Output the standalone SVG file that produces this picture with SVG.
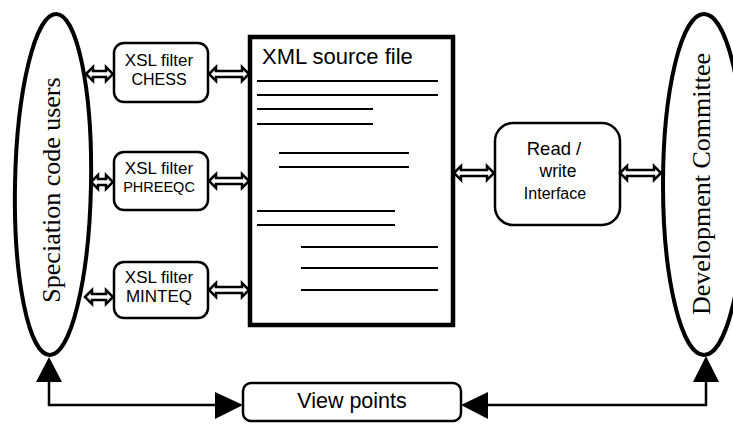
<svg xmlns="http://www.w3.org/2000/svg" width="733" height="424" viewBox="0 0 733 424">
  <style>
    .ell { fill: #fff; stroke: #000; stroke-width: 4; }
    .box { fill: #fff; stroke: #000; stroke-width: 2.5; }
    .doc { fill: #fff; stroke: #000; stroke-width: 4.5; }
    .row { stroke: #000; stroke-width: 2; }
    .sans { font-family: "Liberation Sans", Arial, sans-serif; fill: #000; }
    .serif { font-family: "Liberation Serif", "Times New Roman", serif; fill: #000; font-size: 26px; }
    .dbl { fill: #fff; stroke: #000; stroke-width: 2.5; stroke-linejoin: miter; }
    .wire { fill: none; stroke: #000; stroke-width: 2.5; }
    .head { fill: #000; stroke: none; }
  </style>

  <!-- actors -->
  <g id="users">
    <ellipse class="ell" cx="53" cy="184.5" rx="38" ry="170.5" transform="rotate(1.1 53 184.5)"/>
    <text class="serif" text-anchor="middle" transform="translate(60 190) rotate(-90)">Speciation code users</text>
  </g>
  <g id="committee">
    <ellipse class="ell" cx="704" cy="184.5" rx="41" ry="170.5"/>
    <text class="serif" text-anchor="middle" transform="translate(710 184) rotate(-90)">Development Committee</text>
  </g>

  <!-- filters -->
  <g id="filter-chess">
    <rect class="box" x="114" y="43" width="94" height="59" rx="10"/>
    <text class="sans" x="159" y="66" font-size="17" text-anchor="middle">XSL filter</text>
    <text class="sans" x="159" y="85" font-size="16" text-anchor="middle">CHESS</text>
  </g>
  <g id="filter-phreeqc">
    <rect class="box" x="114" y="152" width="94" height="58" rx="10"/>
    <text class="sans" x="159" y="174" font-size="17" text-anchor="middle">XSL filter</text>
    <text class="sans" x="159" y="192" font-size="14.5" text-anchor="middle">PHREEQC</text>
  </g>
  <g id="filter-minteq">
    <rect class="box" x="114" y="262" width="94" height="56" rx="10"/>
    <text class="sans" x="159" y="283" font-size="17" text-anchor="middle">XSL filter</text>
    <text class="sans" x="159" y="302" font-size="17" text-anchor="middle">MINTEQ</text>
  </g>

  <!-- source document -->
  <g id="xml-source">
    <rect class="doc" x="250" y="37" width="203" height="288"/>
    <text class="sans" x="262" y="64" font-size="22">XML source file</text>
    <line class="row" x1="257" y1="81" x2="438" y2="81"/>
    <line class="row" x1="257" y1="95" x2="438" y2="95"/>
    <line class="row" x1="257" y1="109" x2="373" y2="109"/>
    <line class="row" x1="257" y1="124" x2="373" y2="124"/>
    <line class="row" x1="279" y1="153" x2="409" y2="153"/>
    <line class="row" x1="279" y1="167" x2="409" y2="167"/>
    <line class="row" x1="257" y1="211" x2="395" y2="211"/>
    <line class="row" x1="257" y1="225" x2="395" y2="225"/>
    <line class="row" x1="301" y1="247" x2="438" y2="247"/>
    <line class="row" x1="301" y1="268" x2="438" y2="268"/>
    <line class="row" x1="301" y1="290" x2="438" y2="290"/>
  </g>

  <g id="read-write">
    <rect class="box" x="495" y="123" width="125" height="102" rx="18"/>
    <text class="sans" x="554" y="155" font-size="18.5" text-anchor="middle">Read /</text>
    <text class="sans" x="558" y="177" font-size="17.5" text-anchor="middle">write</text>
    <text class="sans" x="555" y="199" font-size="16" text-anchor="middle">Interface</text>
  </g>

  <g id="view-points">
    <rect class="box" x="243" y="383" width="218" height="38" rx="8"/>
    <text class="sans" x="352" y="408" font-size="21.5" text-anchor="middle">View points</text>
  </g>

  <!-- connectors -->
  <g id="connectors">
    <!-- hollow two-way arrows: tip, head, shaft, head, tip -->
    <path class="dbl" d="M86 74 L93 67 L93 71 L106 71 L106 67 L113 74 L106 81 L106 77 L93 77 L93 81 Z"/>
    <path class="dbl" d="M209 74 L216 67 L216 71 L242 71 L242 67 L249 74 L242 81 L242 77 L216 77 L216 81 Z"/>
    <path class="dbl" d="M91 182 L98 175 L98 179 L106 179 L106 175 L113 182 L106 189 L106 185 L98 185 L98 189 Z"/>
    <path class="dbl" d="M209 181 L216 174 L216 178 L242 178 L242 174 L249 181 L242 188 L242 184 L216 184 L216 188 Z"/>
    <path class="dbl" d="M85 297 L92 290 L92 294 L106 294 L106 290 L113 297 L106 304 L106 300 L92 300 L92 304 Z"/>
    <path class="dbl" d="M209 290 L216 283 L216 287 L242 287 L242 283 L249 290 L242 297 L242 293 L216 293 L216 297 Z"/>
    <path class="dbl" d="M454 173 L461 166 L461 170 L487 170 L487 166 L494 173 L487 180 L487 176 L461 176 L461 180 Z"/>
    <path class="dbl" d="M620 173 L627 166 L627 170 L654 170 L654 166 L661 173 L654 180 L654 176 L627 176 L627 180 Z"/>

    <!-- feedback loop through the view points -->
    <polyline class="wire" points="49,380 49,405 216,405"/>
    <polygon class="head" points="49,357 36,382 62,382"/>
    <polygon class="head" points="243,405 215,392 215,419"/>
    <polyline class="wire" points="486,405 706,405 706,380"/>
    <polygon class="head" points="461,405 488,392 488,419"/>
    <polygon class="head" points="706,356 693,382 719,382"/>
  </g>
</svg>
